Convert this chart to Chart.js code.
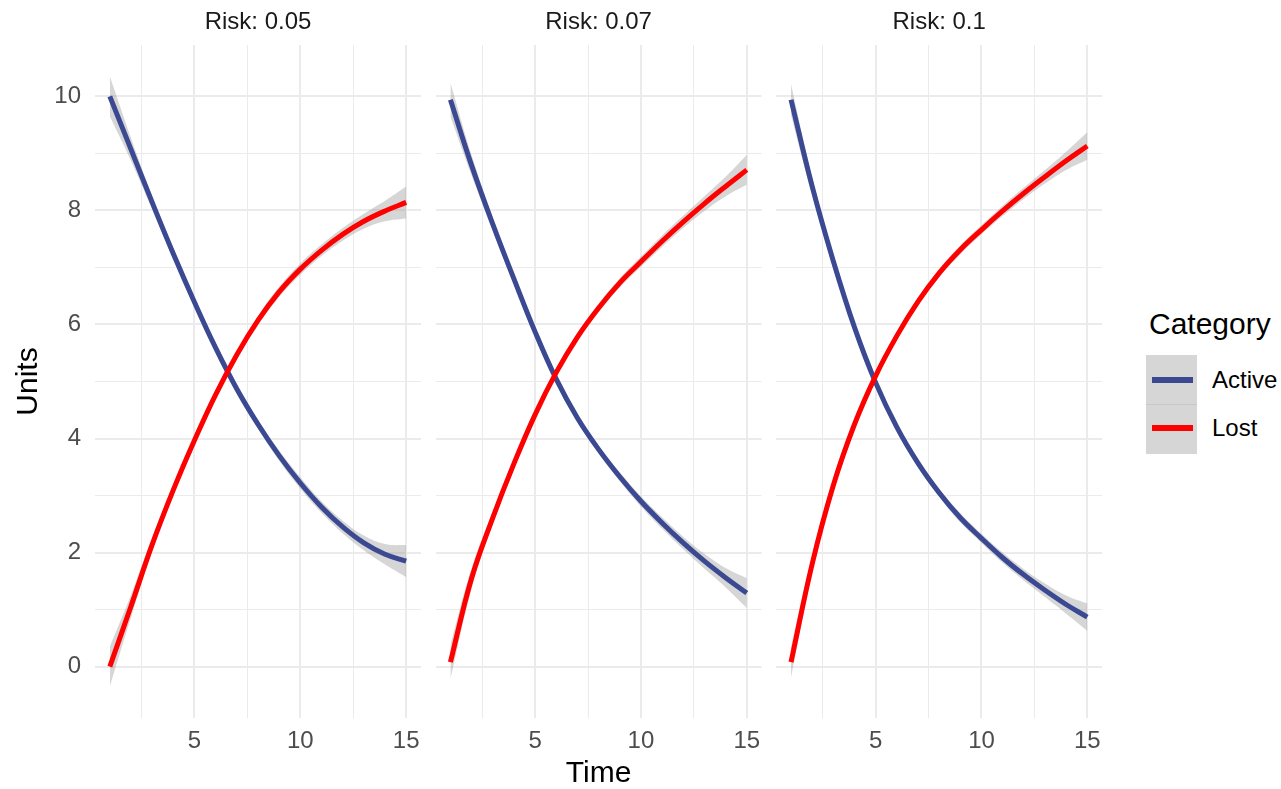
<!DOCTYPE html>
<html>
<head>
<meta charset="utf-8">
<script src="https://cdn.jsdelivr.net/npm/chart.js@4.4.1/dist/chart.umd.min.js"></script>
<style>
  body { margin: 0; background: #fff; }
  #wrap { position: relative; width: 1281px; height: 789px; overflow: hidden; font-family: "Liberation Sans", Arial, sans-serif; }
  canvas { position: absolute; top: 0; }
  .abs { position: absolute; white-space: nowrap; }
  .key { position: absolute; left: 1146px; width: 51px; height: 49px; background: #D6D6D6; }
  .swatch { position: absolute; left: 1152px; width: 41px; height: 6px; }
  .lab { font-size: 24px; line-height: 24px; color: #000; left: 1212px; }
</style>
</head>
<body>
<div id="wrap">
  <canvas id="p1" width="430" height="789" style="left:0px"></canvas>
  <canvas id="p2" width="340" height="789" style="left:430px"></canvas>
  <canvas id="p3" width="340" height="789" style="left:770px"></canvas>

  <div class="abs" style="left:1149px; top:309px; font-size:30px; line-height:30px; color:#000;">Category</div>
  <div class="key" style="top:355px; border-bottom:1px solid #C8C8C8;"></div>
  <div class="key" style="top:405px;"></div>
  <div class="swatch" id="sw0" style="top:377px;"></div>
  <div class="swatch" id="sw1" style="top:425px;"></div>
  <div class="abs lab" id="lab0" style="top:368px;"></div>
  <div class="abs lab" id="lab1" style="top:416px;"></div>
</div>
<script>
const FONT = '"Liberation Sans", Arial, sans-serif';

// time steps
const time = [1, 2, 3, 4, 5, 6, 7, 8, 9, 10, 11, 12, 13, 14, 15];

// facet titles
const riskLabels = ['Risk: 0.05', 'Risk: 0.07', 'Risk: 0.1'];

// series
const categories = ['Active', 'Lost'];
const lineColors = ['#3B4992', '#FF0000'];

// Risk 0.05
const active05 = [10.0, 9.07, 8.14, 7.24, 6.39, 5.59, 4.87, 4.25, 3.70, 3.22, 2.80, 2.45, 2.17, 1.97, 1.85];
const lost05 = [0.0, 1.06, 2.14, 3.10, 3.97, 4.77, 5.47, 6.07, 6.57, 6.97, 7.30, 7.58, 7.81, 7.99, 8.14];
const band05 = [0.35, 0.2, 0.12, 0.09, 0.08, 0.07, 0.07, 0.08, 0.09, 0.1, 0.1, 0.11, 0.13, 0.18, 0.28];

// Risk 0.07
const active07 = [9.94, 8.79, 7.76, 6.80, 5.87, 5.04, 4.36, 3.81, 3.33, 2.90, 2.52, 2.17, 1.85, 1.56, 1.29];
const lost07 = [0.08, 1.55, 2.61, 3.56, 4.42, 5.16, 5.78, 6.29, 6.73, 7.10, 7.46, 7.80, 8.12, 8.42, 8.71];
const band07 = [0.3, 0.18, 0.11, 0.08, 0.07, 0.07, 0.07, 0.07, 0.08, 0.09, 0.1, 0.11, 0.13, 0.17, 0.26];

// Risk 0.1
const active10 = [9.94, 8.42, 7.11, 5.95, 4.98, 4.20, 3.57, 3.05, 2.61, 2.25, 1.91, 1.61, 1.34, 1.09, 0.87];
const lost10 = [0.08, 1.80, 3.18, 4.25, 5.10, 5.80, 6.40, 6.90, 7.31, 7.66, 7.99, 8.30, 8.59, 8.87, 9.13];
const band10 = [0.27, 0.16, 0.1, 0.08, 0.07, 0.07, 0.07, 0.07, 0.08, 0.08, 0.09, 0.1, 0.12, 0.16, 0.24];

// axis breaks
const xMajor = [5, 10, 15];
const xMinor = [2.5, 7.5, 12.5];
const yMajor = [0, 2, 4, 6, 8, 10];
const yMinor = [1, 3, 5, 7, 9];

const points = (vals, band, sign) => time.map((t, i) => ({ x: t, y: vals[i] + sign * (band ? band[i] : 0) }));

const lineSet = (vals, color) => ({
  data: points(vals, null, 0),
  borderColor: color,
  borderWidth: 5,
  pointRadius: 0,
  fill: false,
  tension: 0.4
});

const bandSet = (vals, band, sign, fill) => ({
  data: points(vals, band, sign),
  borderWidth: 0,
  borderColor: 'rgba(0,0,0,0)',
  backgroundColor: 'rgba(153,153,153,0.4)',
  pointRadius: 0,
  fill: fill,
  tension: 0.4
});

const gridWidth = (major) => (c) => (c.tick && major.includes(c.tick.value) ? 2 : 1);

function drawPanel(id, title, active, lost, band, padL, padR, first, middle) {
  new Chart(document.getElementById(id), {
    type: 'line',
    data: {
      datasets: [
        lineSet(lost, lineColors[1]),
        bandSet(lost, band, 1, false),
        bandSet(lost, band, -1, '-1'),
        lineSet(active, lineColors[0]),
        bandSet(active, band, 1, false),
        bandSet(active, band, -1, '-1')
      ]
    },
    options: {
      responsive: false,
      animation: false,
      layout: { padding: { left: padL, right: padR, top: 0, bottom: 0 } },
      plugins: {
        legend: { display: false },
        tooltip: { enabled: false },
        title: {
          display: true,
          text: title,
          fullSize: false,
          color: '#1A1A1A',
          font: { size: 24, family: FONT, weight: 'normal', lineHeight: 1.2 },
          padding: { top: 8, bottom: 8.2 }
        }
      },
      scales: {
        x: {
          type: 'linear',
          min: 0.3,
          max: 15.7,
          afterBuildTicks: (s) => { s.ticks = xMinor.concat(xMajor).sort((a, b) => a - b).map(v => ({ value: v })); },
          afterFit: (s) => { s.height = 71; },
          border: { display: false },
          grid: { color: '#EBEBEB', lineWidth: gridWidth(xMajor), drawTicks: false },
          ticks: {
            autoSkip: false,
            maxRotation: 0,
            padding: 9,
            color: '#4D4D4D',
            font: { size: 24, family: FONT },
            callback: (v) => (xMajor.includes(v) ? String(v) : '')
          },
          title: {
            display: middle,
            text: 'Time',
            color: '#000',
            font: { size: 30, family: FONT, lineHeight: 1 },
            padding: { top: 0, bottom: 0 }
          }
        },
        y: {
          type: 'linear',
          min: -0.9,
          max: 10.9,
          afterBuildTicks: (s) => { s.ticks = yMinor.concat(yMajor).sort((a, b) => a - b).map(v => ({ value: v })); },
          afterFit: (s) => { s.width = first ? 95 : 0; },
          border: { display: false },
          grid: { color: '#EBEBEB', lineWidth: gridWidth(yMajor), drawTicks: false },
          ticks: {
            display: first,
            autoSkip: false,
            padding: 14,
            color: '#4D4D4D',
            font: { size: 24, family: FONT },
            callback: (v) => (yMajor.includes(v) ? String(v) : '')
          },
          title: {
            display: first,
            text: 'Units',
            color: '#000',
            font: { size: 30, family: FONT, lineHeight: 1.2 },
            padding: { top: 11, bottom: 0 }
          }
        }
      }
    }
  });
}

drawPanel('p1', riskLabels[0], active05, lost05, band05, 0, 9, true, false);
drawPanel('p2', riskLabels[1], active07, lost07, band07, 5.6, 8.4, false, true);
drawPanel('p3', riskLabels[2], active10, lost10, band10, 6.2, 7.8, false, false);

// legend
categories.forEach((c, i) => {
  document.getElementById('sw' + i).style.background = lineColors[i];
  document.getElementById('lab' + i).textContent = c;
});
</script>
</body>
</html>
